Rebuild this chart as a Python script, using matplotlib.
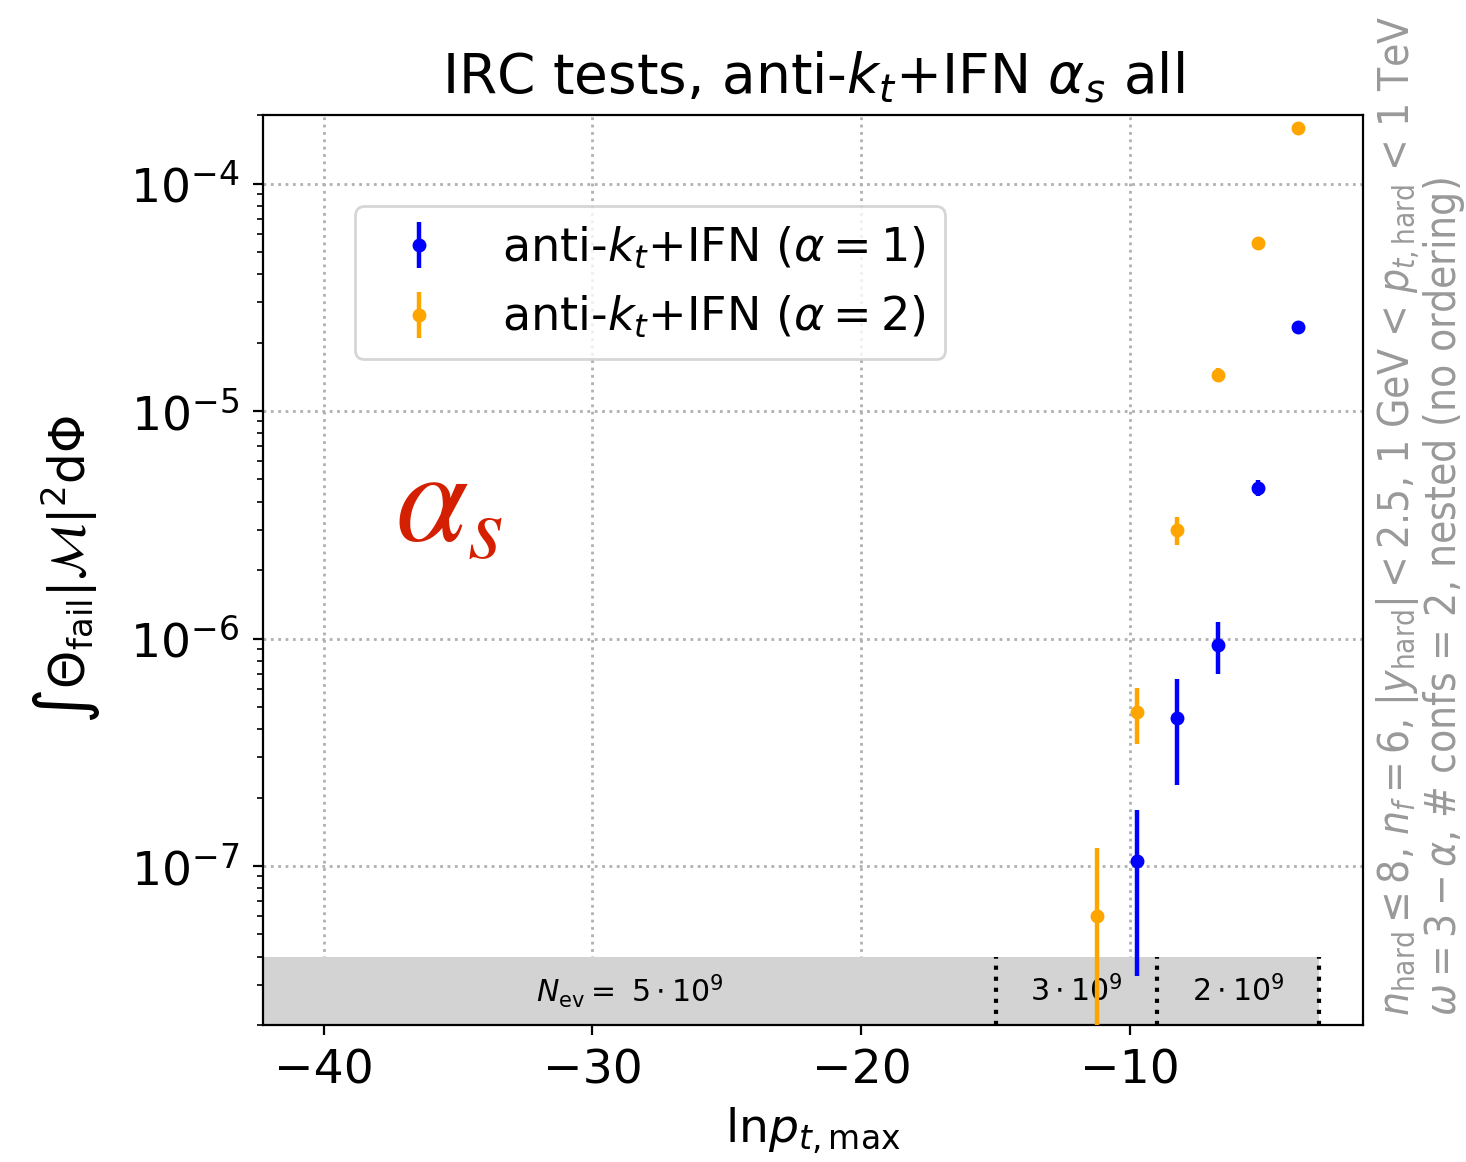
import numpy as np
import matplotlib
matplotlib.use("Agg")
import matplotlib.pyplot as plt

# ---- data ----
lnpt = [-11.25, -9.75, -8.25, -6.75, -5.25, -3.75]
alpha1_x = [-9.75, -8.25, -6.75, -5.25, -3.75]
alpha1_y = [1.05e-7, 4.46e-7, 9.4e-7, 4.6e-6, 2.34e-5]
alpha1_err = [7.2e-8, 2.2e-7, 2.4e-7, 3.9e-7, 5e-7]
alpha2_x = lnpt
alpha2_y = [6.04e-8, 4.73e-7, 3.0e-6, 1.44e-5, 5.46e-5, 1.76e-4]
alpha2_err = [6.0e-8, 1.3e-7, 4.3e-7, 1.0e-6, 1.5e-6, 2.5e-6]
labels = [r"anti-$k_t$+IFN ($\alpha = 1$)", r"anti-$k_t$+IFN ($\alpha = 2$)"]
band_edges = [-15, -9, -3]
band_labels = [r"$N_{\rm ev} =$ $5 \cdot 10^9$", r"$3 \cdot 10^9$", r"$2 \cdot 10^9$"]
xlim = (-42.25, -1.35)
ylim = (2e-8, 2e-4)
band_top = 4e-8

plt.rcParams['mathtext.fontset'] = 'dejavusans'
plt.rcParams['mathtext.rm'] = 'DejaVu Sans:stretch=condensed'
plt.rcParams['mathtext.it'] = 'DejaVu Sans:style=italic:stretch=condensed'
plt.rcParams['mathtext.bf'] = 'DejaVu Sans:weight=bold:stretch=condensed'
plt.rcParams['mathtext.sf'] = 'DejaVu Sans:stretch=condensed'

fig = plt.figure(figsize=(7.33, 5.81), dpi=200)
ax = fig.add_axes([0.1794, 0.1179, 0.7503, 0.7831])

ax.errorbar(alpha1_x, alpha1_y, yerr=alpha1_err, fmt='o', color='blue',
            markersize=4, elinewidth=1.6, label=labels[0], zorder=5)
ax.errorbar(alpha2_x, alpha2_y, yerr=alpha2_err, fmt='o', color='orange',
            markersize=4, elinewidth=1.6, label=labels[1], zorder=5)

ax.set_yscale('log')
ax.set_xlim(*xlim)
ax.set_ylim(*ylim)

# N_ev band
ax.fill_between([xlim[0], band_edges[-1]], ylim[0], band_top, color='lightgray', zorder=1, linewidth=0)
for e in band_edges:
    ax.plot([e, e], [ylim[0], band_top], color='black', linestyle=':', linewidth=1.5, zorder=2)
mids = [(xlim[0] + band_edges[0]) / 2, (band_edges[0] + band_edges[1]) / 2, (band_edges[1] + band_edges[2]) / 2]
ycen = np.sqrt(ylim[0] * band_top)
for m, t in zip(mids, band_labels):
    ax.text(m, ycen, t, ha='center', va='center', fontsize=10.8, zorder=3)

ax.grid(True, which='major', linestyle=':', color='#b0b0b0', linewidth=1.0)
ax.set_axisbelow(True)

ax.tick_params(axis='both', which='major', labelsize=17, pad=5)
ax.set_xticks([-40, -30, -20, -10])
ax.set_xlabel(r"$\mathrm{ln} p_{t,\mathrm{max}}$", fontsize=17)
ax.set_ylabel(r"$\int \Theta_{\rm fail} |\mathcal{M}|^2 {\rm d}\Phi$", fontsize=17.5, labelpad=10)
ax.set_title(r"IRC tests, anti-$k_t$+IFN $\alpha_s$ all", fontsize=19.8, pad=8)

leg = ax.legend(loc='upper left', bbox_to_anchor=(0.0625, 0.925), fontsize=16.6)

ax.text(0.12, 0.572, r"$\alpha_s$", transform=ax.transAxes, color='#d42000',
        fontsize=47, math_fontfamily='stix', ha='left', va='center')

ax.text(1.011, 0.01,
        r"$n_{\rm hard} \leq 8$, $n_f = 6$, $|y_{\rm hard}| < 2.5$, 1 GeV < $p_{t,\rm hard}$ < 1 TeV" "\n"
        r"$\omega = 3 - \alpha$, # confs = 2, nested (no ordering)",
        transform=ax.transAxes, rotation=90, ha='left', va='bottom',
        color='#999999', fontsize=15.2, multialignment='left', family='DejaVu Sans',
        fontstretch='condensed', math_fontfamily='custom', linespacing=0.92)

fig.savefig("out.png", dpi=200)
